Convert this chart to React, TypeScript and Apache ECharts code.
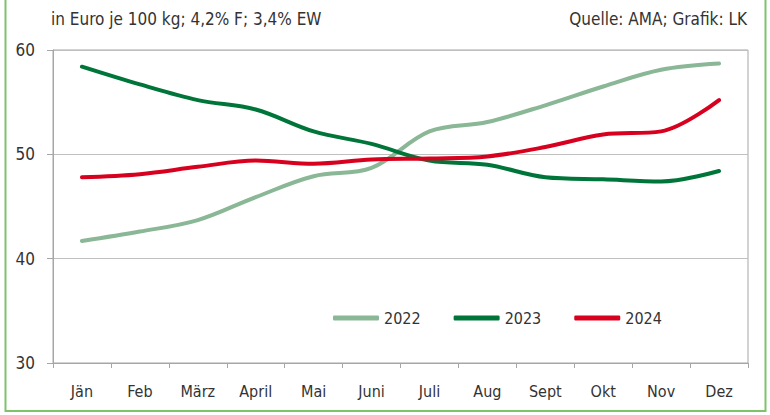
import React, { useEffect, useRef } from "react";
import * as echarts from "echarts";

const months = ["Jän", "Feb", "März", "April", "Mai", "Juni", "Juli", "Aug", "Sept", "Okt", "Nov", "Dez"];
const s2022 = [41.7, 42.6, 43.7, 45.9, 47.9, 48.7, 52.2, 53.1, 54.7, 56.5, 58.1, 58.7];
const s2023 = [58.4, 56.7, 55.2, 54.3, 52.2, 51.0, 49.4, 49.0, 47.8, 47.6, 47.4, 48.4];
const s2024 = [47.8, 48.1, 48.8, 49.4, 49.1, 49.5, 49.6, 49.8, 50.7, 51.9, 52.2, 55.2];
const seriesNames = ["2022", "2023", "2024"];
const colors = ["#8ab796", "#007539", "#d8001f"];
const subtitle = "in Euro je 100 kg; 4,2% F; 3,4% EW";
const source = "Quelle: AMA; Grafik: LK";

const FONT = "'Liberation Sans Narrow', 'DejaVu Sans Condensed', 'Roboto Condensed', sans-serif";

export default function App() {
  const ref = useRef<HTMLDivElement>(null);
  useEffect(() => {
    document.body.style.margin = "0";
    const chart = echarts.init(ref.current!, null, { renderer: "svg" });
    const data = [s2022, s2023, s2024];
    chart.setOption({
      animation: false,
      textStyle: { fontFamily: FONT },
      grid: { left: 53, right: 22, top: 50, bottom: 52, show: true, borderColor: "#a6a6a6", borderWidth: 1 },
      legend: {
        top: 310,
        left: 333,
        padding: 0,
        itemWidth: 46,
        itemHeight: 5,
        itemGap: 33,
        icon: "roundRect",
        textStyle: { fontFamily: FONT, fontSize: 16, color: "#333" },
        data: seriesNames,
      },
      xAxis: {
        type: "category",
        data: months,
        boundaryGap: true,
        axisLine: { lineStyle: { color: "#a6a6a6" } },
        axisTick: { show: true, length: 5, lineStyle: { color: "#a6a6a6" } },
        axisLabel: { margin: 20, fontFamily: FONT, fontSize: 16, color: "#333" },
      },
      yAxis: {
        type: "value",
        min: 30,
        max: 60,
        interval: 10,
        axisLine: { show: true, lineStyle: { color: "#a6a6a6" } },
        axisTick: { show: true, length: 6, lineStyle: { color: "#a6a6a6" } },
        axisLabel: { margin: 18, fontFamily: FONT, fontSize: 17, color: "#333" },
        splitLine: { lineStyle: { color: "#bfbfbf" } },
      },
      series: data.map((d, i) => ({
        name: seriesNames[i],
        type: "line",
        data: d,
        smooth: 0.35,
        symbol: "none",
        lineStyle: { width: 4, color: colors[i], cap: "round" },
        itemStyle: { color: colors[i] },
      })),
      graphic: [
        {
          type: "rect",
          shape: { x: 5.5, y: -10, width: 760, height: 421 },
          style: { fill: "none", stroke: "#7cc36a", lineWidth: 2 },
          silent: true,
        },
        {
          type: "text",
          left: 51,
          top: 10,
          style: { text: subtitle, font: `17px ${FONT}`, fill: "#333" },
        },
        {
          type: "text",
          right: 23,
          top: 10,
          style: { text: source, font: `17px ${FONT}`, fill: "#333" },
        },
      ],
    });
    return () => chart.dispose();
  }, []);
  return <div ref={ref} style={{ width: 770, height: 415 }} />;
}
